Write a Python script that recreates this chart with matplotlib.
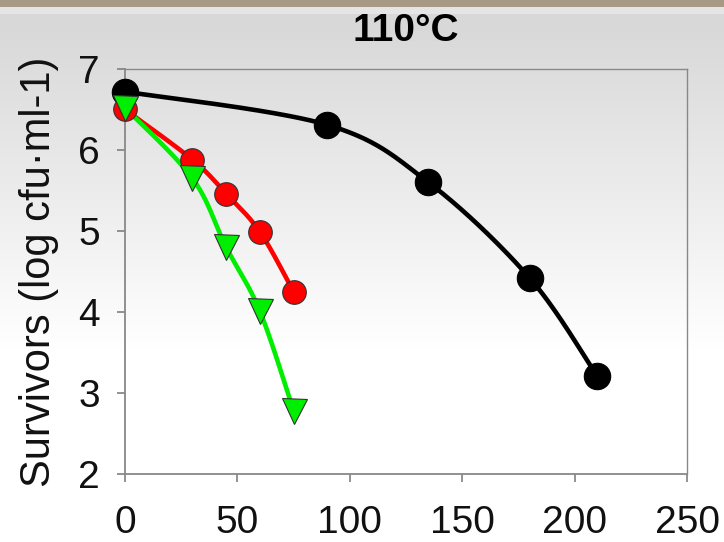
import numpy as np
import matplotlib
matplotlib.use("Agg")
import matplotlib.pyplot as plt

plt.rcParams['font.family'] = ['Liberation Sans', 'DejaVu Sans']

# Data
t_black = [0, 90, 135, 180, 210]
y_black = [6.72, 6.31, 5.60, 4.42, 3.21]
t_red = [0, 30, 45, 60, 75]
y_red = [6.50, 5.88, 5.46, 4.99, 4.25]
t_green = [0, 30, 45, 60, 75]
y_green = [6.52, 5.65, 4.80, 4.01, 2.78]

x_ticks = [0, 50, 100, 150, 200, 250]
y_ticks = [2, 3, 4, 5, 6, 7]
title = "110°C"
ylabel = "Survivors (log cfu·ml-1)"


def smooth_line(x, y, n=60):
    """Spreadsheet-style smoothed line (Catmull-Rom Bezier) through the points."""
    P = np.column_stack([np.asarray(x, float), np.asarray(y, float)])
    sc = np.array([250.0, 5.0])
    Q = P / sc
    k = len(Q)
    ext = np.vstack([Q[0], Q, Q[-1]])
    s = np.linspace(0, 1, n)[:, None]
    out = []
    for i in range(k - 1):
        p0, p1, p2, p3 = ext[i], ext[i + 1], ext[i + 2], ext[i + 3]
        c1 = p1 + (p2 - p0) / 6.0
        c2 = p2 - (p3 - p1) / 6.0
        seg = ((1 - s) ** 3 * p1 + 3 * (1 - s) ** 2 * s * c1
               + 3 * (1 - s) * s ** 2 * c2 + s ** 3 * p2)
        out.append(seg if i == 0 else seg[1:])
    R = np.vstack(out) * sc
    return R[:, 0], R[:, 1]


fig = plt.figure(figsize=(7.24, 5.42), dpi=100)

# background gradient
bg = fig.add_axes([0, 0, 1, 1], zorder=-10)
H = 542
rows = np.arange(H)
g = np.clip(0.85 + 0.15 * (rows - 30) / 320.0, 0.85, 1.0)
img = np.repeat(g[:, None], 10, axis=1)
rgb = np.dstack([img, img, img])
rgb[:7] = np.array([0.66, 0.60, 0.52])
rgb[7:14] = np.array([0.90, 0.90, 0.90])
bg.imshow(rgb, aspect='auto', extent=[0, 1, 0, 1])
bg.axis('off')

ax = fig.add_axes([0.1727, 0.1255, 0.7762, 0.7472])
ax.set_facecolor('none')

for tx, ty, col, mk, ms in [
    (t_black, y_black, 'black', 'o', 19),
    (t_red, y_red, '#ff0000', 'o', 17),
    (t_green, y_green, '#00ee00', 'v', 18),
]:
    tt, yy = smooth_line(tx, ty)
    ax.plot(tt, yy, color=col, lw=3.3, zorder=3, clip_on=False)
    ax.plot(tx, ty, linestyle='none', marker=mk, ms=ms, mfc=col,
            mec='#333333' if col != 'black' else 'black', mew=0.8,
            zorder=4, clip_on=False)

ax.set_xlim(0, 250)
ax.set_ylim(2, 7)
ax.set_xticks(x_ticks)
ax.set_yticks(y_ticks)
ax.tick_params(axis='both', direction='out', length=6, width=1.2,
               color='#808080', labelsize=28, labelcolor='#111111')
ax.tick_params(axis='x', pad=16)
ax.tick_params(axis='y', pad=12)
for s in ax.spines.values():
    s.set_color('#888888')
    s.set_linewidth(1.3)
for s in ['top', 'right']:
    ax.spines[s].set_linewidth(1.0)

ax.set_ylabel(ylabel, fontsize=30, color='#111111', labelpad=14)
ax.set_title(title, fontsize=28, fontweight='bold', pad=20)

fig.savefig('out.png', dpi=100)
